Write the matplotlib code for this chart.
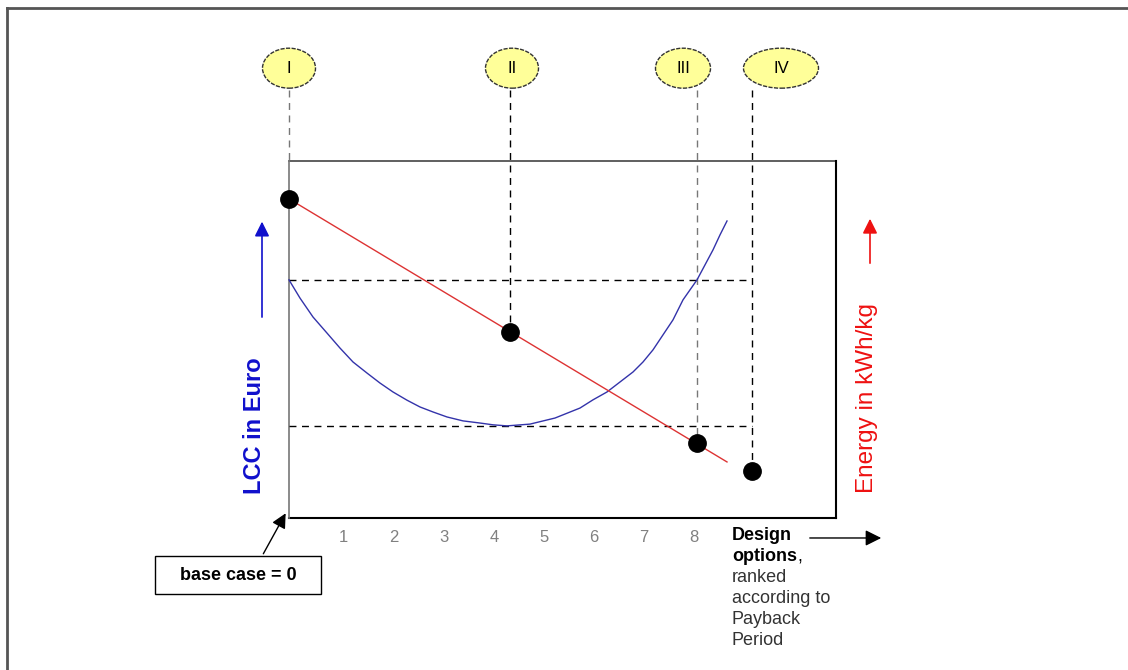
import numpy as np
import matplotlib.pyplot as plt
from matplotlib.patches import Ellipse, Rectangle

plt.rcParams['font.family'] = ['Liberation Sans', 'DejaVu Sans']

# design option axis (ranked by payback period)
tickOptions = [1, 2, 3, 4, 5, 6, 7, 8]

# LCC curve (blue)
lccX = [0.0, 0.22, 0.48, 0.76, 1.02, 1.28, 1.56, 1.82, 2.08, 2.36, 2.62, 2.88, 3.16,
        3.48, 3.82, 4.08, 4.36, 4.82, 5.32, 5.82, 6.08, 6.36, 6.62, 6.88, 7.08, 7.28,
        7.48, 7.68, 7.88, 8.16, 8.32, 8.48, 8.62, 8.76]
lccY = [66.7, 61.6, 56.3, 51.8, 47.6, 43.7, 40.6, 37.8, 35.3, 33.0, 31.1, 29.7, 28.3,
        27.2, 26.6, 26.1, 25.8, 26.3, 28.0, 30.8, 33.1, 35.3, 38.1, 40.9, 43.7, 47.1,
        51.3, 55.5, 61.1, 66.7, 70.9, 75.1, 79.3, 83.2]

# energy line (red)
energyX = [0.0, 8.76]
energyY = [89.4, 15.7]

# marked points I..IV
pointLabels = ['I', 'II', 'III', 'IV']
pointX = [0.0, 4.42, 8.16, 9.26]
pointY = [89.4, 52.2, 21.0, 13.2]
ellipseX = [0.0, 4.46, 7.88, 9.84]
ellipseW = [1.06, 1.06, 1.1, 1.5]
guideColors = ['#777777', 'black', '#777777', 'black']

# reference levels of LCC
levelY = [66.7, 25.8]

# caption under the x axis
captionBold = ['Design', 'options']
captionPlain = ['ranked', 'according to', 'Payback', 'Period']

boxRight = 10.94
boxTop = 100

fig = plt.figure(figsize=(11.28, 6.70), dpi=100)
ax = fig.add_axes([0, 0, 1, 1])
ax.set_xlim(-5.78, 16.78)
ax.set_ylim(-42.58, 145.1)
ax.axis('off')

# outer frame (left and top only)
fig.add_artist(plt.Line2D([0.0065, 0.0065], [0, 0.988], color='#555555', lw=2))
fig.add_artist(plt.Line2D([0.0065, 1], [0.988, 0.988], color='#555555', lw=2))

# plot box
ax.plot([0, boxRight], [boxTop, boxTop], color='#444444', lw=1.2)
ax.plot([boxRight, boxRight], [0, boxTop], color='black', lw=1.5)
ax.plot([0, boxRight], [0, 0], color='black', lw=1.5)
ax.plot([0, 0], [0, boxTop], color='#777777', lw=1.2)

# dashed guide lines
for yy in levelY:
    ax.plot([0, 9.26], [yy, yy], color='black', lw=1, ls=(0, (5, 4)))
ellY = 126
for i in range(len(pointLabels)):
    ax.plot([pointX[i], pointX[i]], [ellY - 6, pointY[i] if i > 0 else boxTop],
            color=guideColors[i], lw=1, ls=(0, (5, 4)), zorder=1)

# curves
ax.plot(lccX, lccY, color='#3333aa', lw=1)
ax.plot(energyX, energyY, color='#dd3333', lw=1)
ax.plot(pointX, pointY, 'o', color='black', markersize=12.5, zorder=5)

# ellipses with numerals
for i in range(len(pointLabels)):
    ax.add_patch(Ellipse((ellipseX[i], ellY), ellipseW[i], 11.2, facecolor='#ffff99',
                         edgecolor='#333333', lw=1, ls=(0, (3, 1)), zorder=4))
    ax.text(ellipseX[i], ellY, pointLabels[i], ha='center', va='center', fontsize=12, zorder=5)

# ticks (labels sit a little right of the option position)
for t in tickOptions:
    ax.annotate(str(t), xy=(t, 0), xytext=(3.5, -14), textcoords='offset points',
                ha='center', va='center', fontsize=12, color='#808080')

# axis titles and arrows
ax.text(-0.68, 25.8, 'LCC in Euro', rotation=90, ha='center', va='center',
        fontsize=17, fontweight='bold', color='#1010cc')
ax.annotate('', xy=(-0.54, 83.8), xytext=(-0.54, 55.5),
            arrowprops=dict(arrowstyle='-|>', color='#1010cc', lw=1.2, mutation_scale=22))
ax.text(11.56, 33.6, 'Energy in kWh/kg', rotation=90, ha='center', va='center',
        fontsize=17.5, color='#ee1111')
ax.annotate('', xy=(11.62, 84.6), xytext=(11.62, 70.6),
            arrowprops=dict(arrowstyle='-|>', color='#ee1111', lw=1.2, mutation_scale=22))

capX = 8.86
ax.text(capX, -5.0, captionBold[0], ha='left', va='center', fontsize=13, fontweight='bold')
ax.text(capX, -10.9, captionBold[1], ha='left', va='center', fontsize=13, fontweight='bold')
ax.text(10.16, -10.9, ',', ha='left', va='center', fontsize=13)
for j, line in enumerate(captionPlain):
    ax.text(capX, -16.8 - 5.8 * j, line, ha='left', va='center', fontsize=13, color='#333333')
ax.annotate('', xy=(11.9, -5.6), xytext=(10.36, -5.6),
            arrowprops=dict(arrowstyle='-|>', color='black', lw=1, mutation_scale=24))

# base case box
ax.add_patch(Rectangle((-2.68, -21.3), 3.32, 10.6, facecolor='white', edgecolor='black', lw=1))
ax.text(-1.02, -16.0, 'base case = 0', ha='center', va='center', fontsize=13, fontweight='bold')
ax.annotate('', xy=(-0.04, 2.0), xytext=(-0.54, -10.7),
            arrowprops=dict(arrowstyle='-|>', color='black', lw=1, mutation_scale=22))

fig.savefig('out.png', dpi=100)
